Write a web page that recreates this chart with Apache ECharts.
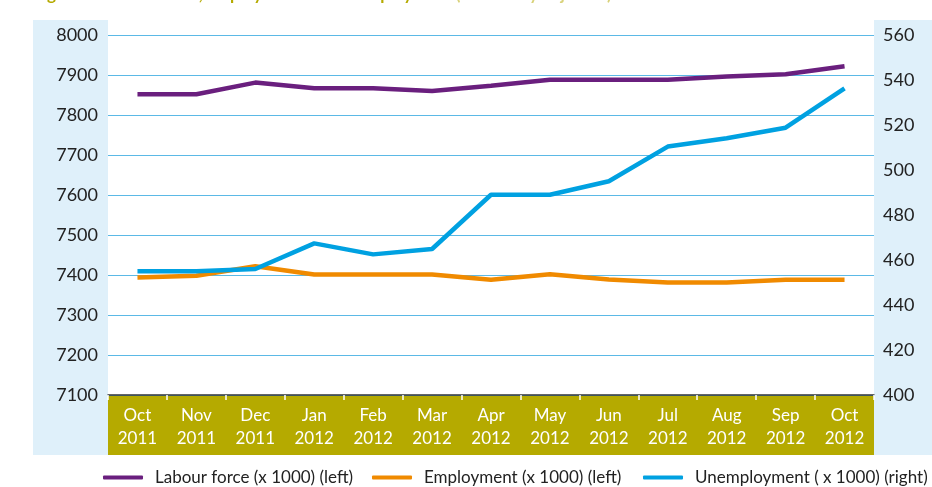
<!DOCTYPE html>
<html>
<head>
<meta charset="utf-8">
<script src="https://cdn.jsdelivr.net/npm/echarts@6/dist/echarts.min.js"></script>
<style>
html,body{margin:0;padding:0;background:#fff;}
#chart{width:932px;height:487px;}
</style>
</head>
<body>
<div id="chart"></div>
<script>
var months = ['Oct','Nov','Dec','Jan','Feb','Mar','Apr','May','Jun','Jul','Aug','Sep','Oct'];
var years = ['2011','2011','2011','2012','2012','2012','2012','2012','2012','2012','2012','2012','2012'];
var labourForce = [7852, 7852, 7881, 7867, 7867, 7860, 7873, 7888, 7888, 7888, 7896, 7902, 7922];
var employment = [7394, 7398, 7422, 7401, 7401, 7401, 7388, 7402, 7389, 7381, 7381, 7388, 7388];
var unemployment = [455, 455, 456, 467.4, 462.5, 464.9, 489, 489, 495, 510.4, 514.1, 518.8, 536.3];
var leftTicks = [7100, 8000, 100];
var rightTicks = [400, 560, 20];
var seriesNames = ['Labour force (x 1000) (left)', 'Employment (x 1000) (left)', 'Unemployment ( x 1000) (right)'];

var categories = months.map(function (m, i) { return m + '\n' + years[i]; });
var FONT = 'Lato';
var chart = echarts.init(document.getElementById('chart'), null, {renderer: 'canvas'});

function legendAt(name, left) {
  return {
    data: [name], left: left, top: 464, itemWidth: 40, itemHeight: 4, icon: 'roundRect',
    itemGap: 0,
    textStyle: {fontFamily: FONT, fontSize: 17, color: '#222', padding: [0, 0, 0, 7]}
  };
}

chart.setOption({
  animation: false,
  title: {
    text: '{a|Figure 1  Labour force, employment and unemployment }{b|(seasonally adjusted)}',
    left: 28, top: -19,
    textStyle: {
      rich: {
        a: {fontFamily: FONT, fontSize: 17, fontWeight: 'bold', color: '#b5aa00'},
        b: {fontFamily: FONT, fontSize: 17, fontWeight: 'bold', color: '#d9d27a'}
      }
    }
  },
  graphic: [
    {type: 'rect', z: -10, shape: {x: 33, y: 20, width: 75, height: 435}, style: {fill: '#dff0fa'}},
    {type: 'rect', z: -10, shape: {x: 874, y: 20, width: 58, height: 435}, style: {fill: '#dff0fa'}},
    {type: 'rect', z: -10, shape: {x: 108, y: 395, width: 766, height: 60}, style: {fill: '#b5aa00'}}
  ],
  legend: [
    legendAt(seriesNames[0], 98),
    legendAt(seriesNames[1], 367),
    legendAt(seriesNames[2], 638)
  ],
  grid: {left: 108, right: 58, top: 35, bottom: 92, containLabel: false},
  xAxis: {
    type: 'category', data: categories, boundaryGap: true,
    axisLine: {lineStyle: {color: '#333', width: 1.5}},
    axisTick: {show: true, length: 5, lineStyle: {color: '#fff', width: 1.5}},
    axisLabel: {color: '#fff', fontFamily: FONT, fontSize: 17, lineHeight: 23, margin: 9}
  },
  yAxis: [
    {
      type: 'value', min: leftTicks[0], max: leftTicks[1], interval: leftTicks[2], position: 'left',
      axisLine: {show: false}, axisTick: {show: false},
      axisLabel: {color: '#222', fontFamily: FONT, fontSize: 18, margin: 10, formatter: function (v) { return String(v); }},
      splitLine: {lineStyle: {color: '#5bb9e6', width: 1}}
    },
    {
      type: 'value', min: rightTicks[0], max: rightTicks[1], interval: rightTicks[2], position: 'right',
      axisLine: {show: false}, axisTick: {show: false},
      axisLabel: {color: '#222', fontFamily: FONT, fontSize: 18, margin: 9, formatter: function (v) { return String(v); }},
      splitLine: {show: false}
    }
  ],
  series: [
    {name: seriesNames[0], type: 'line', yAxisIndex: 0, data: labourForce, symbol: 'none',
     lineStyle: {color: '#6a1f7e', width: 4.5}, itemStyle: {color: '#6a1f7e'}, z: 3},
    {name: seriesNames[1], type: 'line', yAxisIndex: 0, data: employment, symbol: 'none',
     lineStyle: {color: '#f08a00', width: 4.5}, itemStyle: {color: '#f08a00'}, z: 2},
    {name: seriesNames[2], type: 'line', yAxisIndex: 1, data: unemployment, symbol: 'none',
     lineStyle: {color: '#00a1e1', width: 4.5}, itemStyle: {color: '#00a1e1'}, z: 4}
  ]
});
</script>
</body>
</html>
